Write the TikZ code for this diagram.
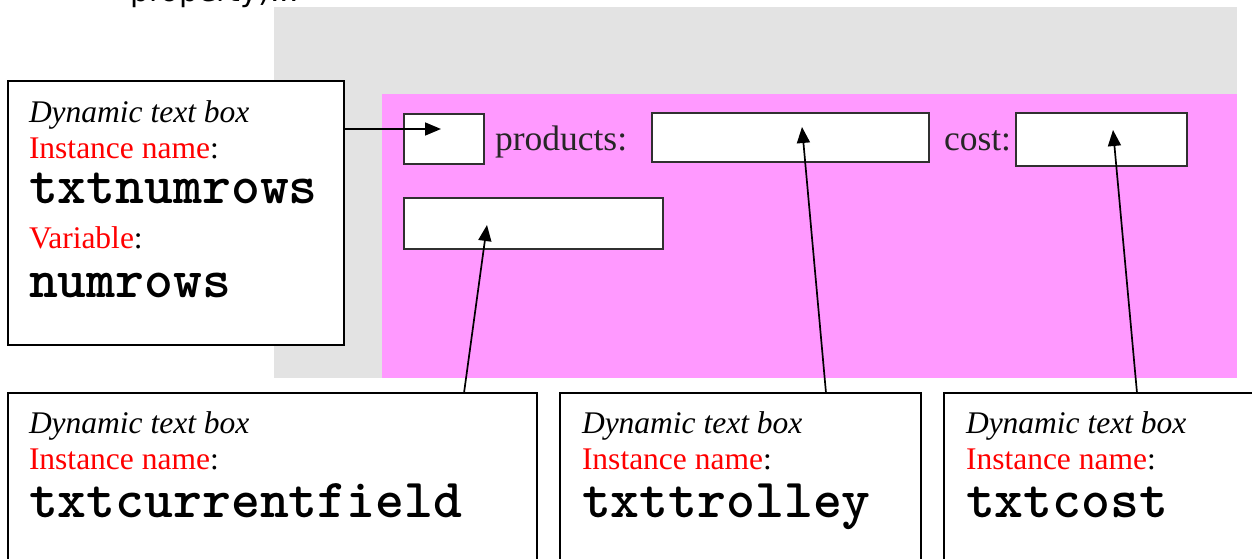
\documentclass[tikz,border=0pt]{standalone}
\usepackage{fontspec}
\setmainfont{Liberation Serif}
\newfontfamily\notefont{DejaVu Sans}
\usetikzlibrary{arrows.meta}
\definecolor{stagegray}{HTML}{E3E3E3}
\definecolor{stagepink}{HTML}{FF99FF}
\definecolor{fieldline}{HTML}{303030}
\definecolor{labelred}{HTML}{FF0000}
\tikzset{
  calloutbox/.style={draw=black, line width=2pt, fill=white, rectangle, inner sep=0pt},
  fieldbox/.style={draw=fieldline, line width=1.8pt, fill=white, rectangle, inner sep=0pt},
  pointer/.style={line width=1.7pt, -{Triangle[length=16pt,width=13pt]}},
  linetext/.style={anchor=base west, inner sep=0pt, outer sep=0pt},
  kindtext/.style={linetext, font=\fontsize{31.5}{31.5}\selectfont\itshape},
  tagtext/.style={linetext, font=\fontsize{31.5}{31.5}\selectfont},
  codetext/.style={linetext, font=\fontsize{55}{55}\selectfont\ttfamily\bfseries},
  stagetext/.style={linetext, text=black!85, font=\fontsize{35.5}{35.5}\selectfont},
}
\begin{document}
\begin{tikzpicture}[x=1pt, y=-1pt]
\useasboundingbox (0,0) rectangle (1252,559);
\begin{scope}
\clip (0,0) rectangle (1252,559);

% heading line above the stage
\node[linetext, font=\fontsize{30}{30}\selectfont\notefont] (heading) at (130,1.5) {property)...};

% stage
\fill[stagegray] (274,7) rectangle (1237,378);
\fill[stagepink] (382,94) rectangle (1237,378);

% text fields on the stage
\node[fieldbox, minimum width=80pt, minimum height=50pt] (numfield) at (444,139) {};
\node[stagetext] (prodlabel) at (495,150) {products:};
\node[fieldbox, minimum width=277pt, minimum height=49pt] (trolleyfield) at (790.5,137.5) {};
\node[stagetext] (costlabel) at (944,150) {cost:};
\node[fieldbox, minimum width=171pt, minimum height=53pt] (costfield) at (1101.5,139.5) {};
\node[fieldbox, minimum width=259pt, minimum height=51pt] (curfield) at (533.5,223.5) {};

% callout: txtnumrows
\node[calloutbox, minimum width=336pt, minimum height=264pt] (numbox) at (176,213) {};
\node[kindtext] (numkind) at (29,122) {Dynamic text box};
\node[tagtext] (numtag) at (29,158) {\textcolor{labelred}{Instance name}:};
\node[codetext] (numname) at (29,203) {txtnumrows};
\node[tagtext] (numvartag) at (29,248) {\textcolor{labelred}{Variable}:};
\node[codetext] (numvar) at (29,297) {numrows};

% callout: txtcurrentfield
\node[calloutbox, minimum width=529pt, minimum height=210pt] (curbox) at (272.5,498) {};
\node[kindtext] (curkind) at (29,433) {Dynamic text box};
\node[tagtext] (curtag) at (29,469) {\textcolor{labelred}{Instance name}:};
\node[codetext] (curname) at (29,517) {txtcurrentfield};

% callout: txttrolley
\node[calloutbox, minimum width=361pt, minimum height=210pt] (trolleybox) at (740.5,498) {};
\node[kindtext] (trolleykind) at (582,433) {Dynamic text box};
\node[tagtext] (trolleytag) at (582,469) {\textcolor{labelred}{Instance name}:};
\node[codetext] (trolleyname) at (582,517) {txttrolley};

% callout: txtcost
\node[calloutbox, minimum width=326pt, minimum height=210pt] (costbox) at (1107,498) {};
\node[kindtext] (costkind) at (966,433) {Dynamic text box};
\node[tagtext] (costtag) at (966,469) {\textcolor{labelred}{Instance name}:};
\node[codetext] (costname) at (966,517) {txtcost};

% pointer ends
\coordinate (numtip) at (441,129);
\coordinate (curtip) at (487,225);
\coordinate (curtail) at (464,393);
\coordinate (trolleytip) at (802,127);
\coordinate (trolleytail) at (826,393);
\coordinate (costtip) at (1113,130);
\coordinate (costtail) at (1137,393);

% pointers
\draw[pointer] (numbox.east |- numtip) -- (numtip);
\draw[pointer] (curtail) -- (curtip);
\draw[pointer] (trolleytail) -- (trolleytip);
\draw[pointer] (costtail) -- (costtip);
\end{scope}
\end{tikzpicture}
\end{document}
